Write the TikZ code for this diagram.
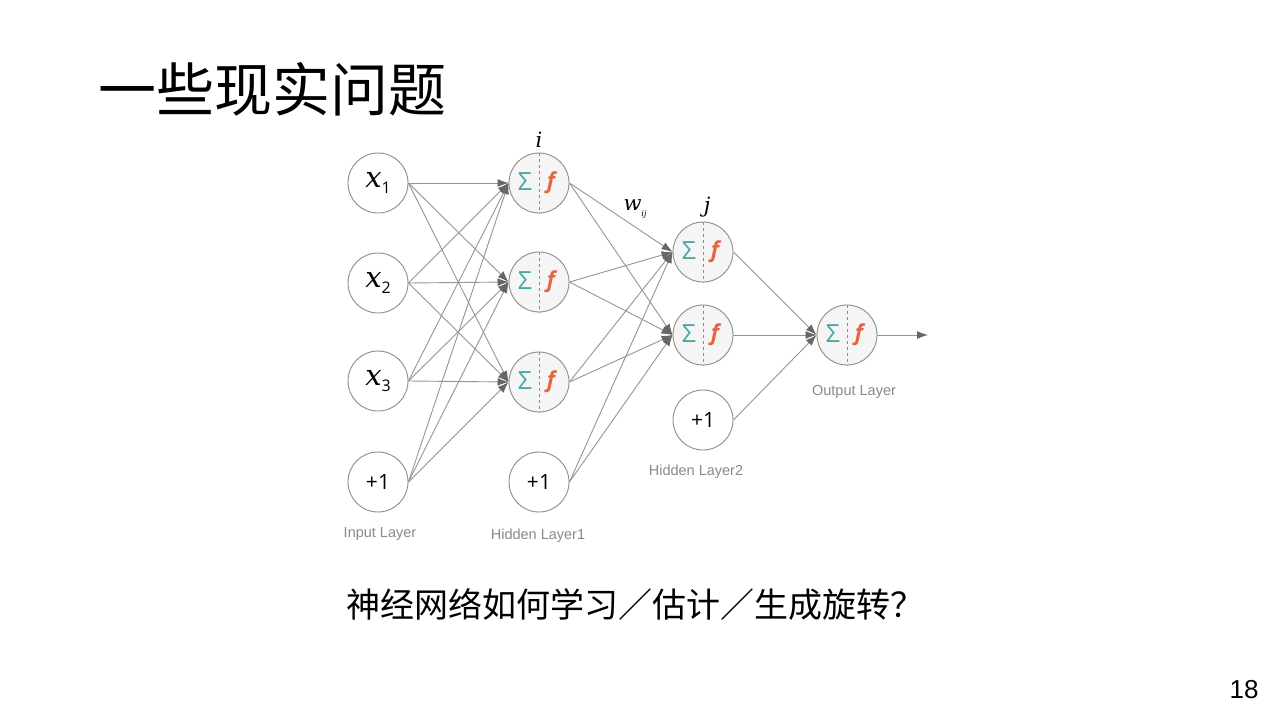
\documentclass[tikz,border=0pt]{standalone}
\usepackage{fontspec}
\setsansfont{Liberation Sans}
\newfontfamily\cjk{Noto Sans CJK SC}
\newfontfamily\unitfont{Open Sans}
\newfontfamily\varfont{DejaVu Serif}
\usetikzlibrary{arrows.meta}
\definecolor{edgegray}{HTML}{959595}
\definecolor{rimgray}{HTML}{8C8C8C}
\definecolor{tipgray}{HTML}{666666}
\definecolor{sumteal}{HTML}{4BA6A6}
\definecolor{forange}{HTML}{E8643F}
\definecolor{lblgray}{HTML}{8A8A8A}
\definecolor{cellfill}{HTML}{F5F5F5}
\newcommand{\xsub}[1]{{\varfont\itshape x}\raisebox{-6pt}{\unitfont\fontsize{16}{18}\selectfont #1}}
\begin{document}
\begin{tikzpicture}[x=1pt,y=-1pt,
  unit/.style={circle,draw=rimgray,line width=0.9pt,minimum size=60pt,inner sep=0pt,fill=white},
  neuron/.style={unit,fill=cellfill},
  link/.style={draw=edgegray,line width=0.9pt,-{Latex[length=11pt,width=8pt,color=tipgray]}},
  layerlbl/.style={font=\sffamily\fontsize{14.5}{16}\selectfont,text=lblgray},
  sumlbl/.style={text=sumteal,font=\unitfont\fontsize{25}{27}\selectfont},
  flbl/.style={text=forange,font=\unitfont\fontsize{22}{24}\selectfont\bfseries\itshape},
  bias/.style={unit,font=\unitfont\fontsize{21}{23}\selectfont},
  xin/.style={unit,font=\fontsize{29}{31}\selectfont},
  varlbl/.style={font=\varfont\fontsize{21}{23}\selectfont\itshape}
]
\useasboundingbox (0,0) rectangle (1280,720);
\fill[white] (0,0) rectangle (1280,720);

% title
\node[anchor=west,font=\cjk\fontsize{58}{62}\selectfont,inner sep=0pt] (title) at (98,89) {一些现实问题};

% input layer
\node[xin] (x1) at (378,183) {\xsub{1}};
\node[xin] (x2) at (378,283) {\xsub{2}};
\node[xin] (x3) at (378,381) {\xsub{3}};
\node[bias] (b0) at (378,482) {+1};

% hidden layer 1
\node[neuron] (h1) at (539,183) {};
\node[neuron] (h2) at (539,282) {};
\node[neuron] (h3) at (539,382) {};
\node[bias] (b1) at (539,482) {+1};

% hidden layer 2
\node[neuron] (g1) at (703,252) {};
\node[neuron] (g2) at (703,335) {};
\node[bias] (b2) at (703,420) {+1};

% output
\node[neuron] (o) at (847,335) {};
\coordinate (out) at (928,335);

% neuron interiors
\foreach \n in {h1,h2,h3,g1,g2,o}{
  \draw[rimgray,dashed,line width=0.7pt] (\n.north) -- (\n.south);
  \node[sumlbl] (\n s) at ([xshift=-14pt,yshift=1pt]\n.center) {Σ};
  \node[flbl] (\n f) at ([xshift=12pt]\n.center) {f};
}

% connections
\foreach \a in {x1,x2,x3,b0}{
  \foreach \b in {h1,h2,h3}{
    \draw[link] (\a.east) -- (\b.west);
  }
}
\foreach \a in {h1,h2,h3,b1}{
  \foreach \b in {g1,g2}{
    \draw[link] (\a.east) -- (\b.west);
  }
}
\foreach \a in {g1,g2,b2}{
  \draw[link] (\a.east) -- (o.west);
}
\draw[link] (o.east) -- (out);

% small labels
\node[varlbl] (ilbl) at (539,140) {i};
\node[varlbl] (jlbl) at (707,207) {j};
\node[varlbl] (wlbl) at (635,209) {w\raisebox{-6pt}{\fontsize{8}{9}\selectfont ij}};

% layer labels
\node[layerlbl] (lin) at (380,534) {Input Layer};
\node[layerlbl] (lh1) at (538,536) {Hidden Layer1};
\node[layerlbl] (lh2) at (696,472) {Hidden Layer2};
\node[layerlbl] (lout) at (854,392) {Output Layer};

% caption
\node[font=\cjk\fontsize{34}{37}\selectfont] (cap) at (635,604) {神经网络如何学习／估计／生成旋转？};

% page number
\node[font=\sffamily\fontsize{26}{28}\selectfont] (pg) at (1244,690) {18};
\end{tikzpicture}
\end{document}
